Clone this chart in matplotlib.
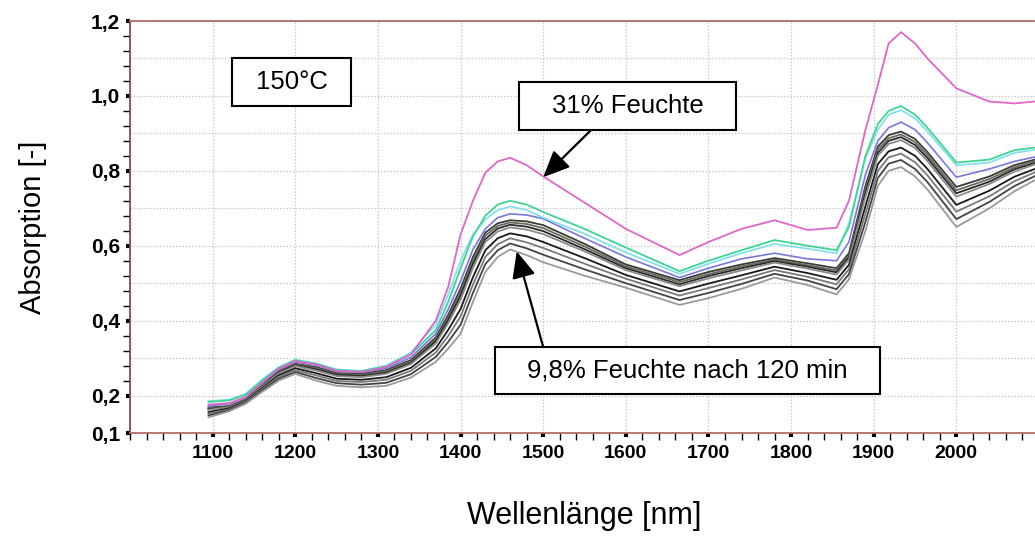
import numpy as np
import matplotlib
matplotlib.use("Agg")
import matplotlib.pyplot as plt
from matplotlib.patches import Rectangle
from matplotlib.ticker import FixedLocator, MultipleLocator

plt.rcParams['font.family'] = ['Liberation Sans', 'DejaVu Sans']

# Wellenlaengen-Stuetzstellen (nm)
wellenlaenge = [1095, 1120, 1140, 1160, 1180, 1200, 1225, 1250, 1280, 1310, 1340,
                1370, 1385, 1400, 1415, 1430, 1445, 1460, 1480, 1500, 1550, 1600,
                1665, 1700, 1740, 1780, 1820, 1855, 1870, 1890, 1905, 1918, 1933,
                1950, 1965, 2000, 2040, 2070, 2095]

# 31% Feuchte (magenta)
feuchte_31 = [.176, .180, .196, .235, .272, .292, .283, .266, .263, .276, .310,
              .400, .490, .630, .720, .795, .825, .835, .815, .785, .715, .645,
              .575, .610, .645, .668, .642, .648, .720, .910, 1.030, 1.140, 1.170,
              1.140, 1.100, 1.020, .985, .980, .985]
# weitere farbige Spektren
spektrum_gruen = [.183, .187, .202, .240, .274, .294, .285, .268, .265, .278, .310,
                  .375, .450, .540, .625, .680, .710, .720, .710, .690, .645, .595,
                  .532, .560, .588, .615, .600, .588, .650, .840, .925, .960, .973,
                  .950, .915, .822, .830, .855, .862]
spektrum_cyan = [.185, .189, .205, .243, .276, .296, .286, .270, .266, .280, .315,
                 .390, .470, .560, .630, .670, .695, .705, .695, .675, .632, .582,
                 .525, .552, .580, .605, .592, .580, .660, .835, .910, .950, .962,
                 .940, .905, .815, .822, .848, .856]
spektrum_blau = [.172, .178, .196, .234, .270, .290, .281, .265, .262, .273, .302,
                 .365, .430, .505, .590, .645, .675, .685, .682, .672, .620, .570,
                 .515, .540, .565, .580, .565, .560, .610, .790, .880, .915, .930,
                 .910, .875, .783, .805, .825, .837]

# graue Spektren (Trocknung bis 9,8% Feuchte nach 120 min)
grau_1 = [.168, .172, .190, .228, .265, .285, .276, .260, .258, .268, .295,
          .355, .415, .485, .570, .635, .660, .668, .665, .655, .605, .550,
          .508, .530, .550, .567, .553, .540, .580, .760, .865, .895, .905,
          .885, .850, .757, .785, .815, .830]
grau_2 = [.166, .171, .189, .227, .263, .283, .273, .257, .255, .265, .291,
          .350, .408, .475, .560, .627, .653, .662, .658, .647, .598, .545,
          .503, .524, .545, .563, .548, .534, .574, .750, .857, .887, .897,
          .877, .842, .748, .778, .809, .826]
grau_3 = [.164, .170, .188, .225, .261, .281, .270, .255, .252, .261, .287,
          .345, .401, .466, .551, .618, .646, .656, .651, .639, .591, .540,
          .497, .519, .540, .559, .544, .529, .569, .741, .848, .880, .890,
          .869, .834, .740, .771, .804, .821]
grau_4 = [.162, .169, .187, .224, .259, .279, .267, .252, .249, .258, .284,
          .339, .393, .456, .541, .610, .638, .649, .643, .631, .585, .535,
          .492, .513, .534, .555, .539, .523, .563, .731, .840, .872, .882,
          .861, .826, .731, .765, .798, .817]
grau_5 = [.156, .166, .185, .220, .254, .273, .260, .245, .242, .249, .274,
          .326, .375, .431, .516, .588, .620, .633, .625, .610, .567, .522,
          .478, .499, .521, .544, .527, .509, .549, .706, .818, .852, .862,
          .840, .805, .709, .747, .784, .805]
grau_6 = [.152, .163, .183, .217, .250, .268, .254, .239, .236, .242, .266,
          .315, .359, .411, .496, .570, .604, .620, .609, .594, .552, .512,
          .467, .487, .510, .535, .517, .497, .537, .686, .800, .836, .846,
          .823, .788, .691, .732, .772, .796]
grau_7 = [.147, .161, .180, .214, .245, .263, .247, .233, .229, .234, .257,
          .303, .343, .389, .474, .551, .588, .606, .593, .576, .537, .500,
          .455, .474, .498, .525, .507, .484, .524, .664, .781, .819, .829,
          .805, .770, .671, .717, .759, .786]
grau_8 = [.142, .158, .178, .210, .240, .258, .240, .226, .222, .226, .248,
          .290, .325, .365, .450, .530, .570, .590, .575, .556, .520, .488,
          .442, .460, .485, .515, .495, .470, .510, .640, .760, .800, .810,
          .785, .750, .650, .700, .745, .775]

graue_spektren = [grau_1, grau_2, grau_3, grau_4, grau_5, grau_6, grau_7, grau_8]
graue_farben = ['#3a3a3a', '#6a6a5a', '#2a2a2a', '#8a8a8a',
                '#1a1a1a', '#7a7a7a', '#444444', '#9a9a9a']

y_ticks = [0.1, 0.2, 0.4, 0.6, 0.8, 1.0, 1.2]
y_labels = ['0,1', '0,2', '0,4', '0,6', '0,8', '1,0', '1,2']
x_ticks = [1100, 1200, 1300, 1400, 1500, 1600, 1700, 1800, 1900, 2000]

fig = plt.figure(figsize=(10.35, 5.36), dpi=100)
ax = fig.add_axes([130 / 1035, 103 / 536, 909 / 1035, 412 / 536])

# Gitter (gepunktet)
for yg in np.arange(0.2, 1.21, 0.1):
    ax.axhline(yg, color='#c8c8c8', lw=0.9, ls=(0, (1.2, 1.4)), zorder=0)
for xg in x_ticks:
    ax.axvline(xg, color='#c8c8c8', lw=0.9, ls=(0, (1.2, 1.4)), zorder=0)

# Spektren
for werte, farbe in zip(graue_spektren, graue_farben):
    ax.plot(wellenlaenge, werte, color=farbe, lw=1.3, zorder=2)
ax.plot(wellenlaenge, spektrum_blau, color='#7878dc', lw=1.2, zorder=3)
ax.plot(wellenlaenge, spektrum_cyan, color='#7ee0ec', lw=1.2, zorder=3)
ax.plot(wellenlaenge, spektrum_gruen, color='#3fd494', lw=1.3, zorder=3)
ax.plot(wellenlaenge, feuchte_31, color='#e066c8', lw=1.3, zorder=4)

ax.set_xlim(1000, 2100)
ax.set_ylim(0.1, 1.2)

ax.xaxis.set_major_locator(FixedLocator(x_ticks))
ax.xaxis.set_minor_locator(MultipleLocator(20))
ax.yaxis.set_major_locator(FixedLocator(y_ticks))
ax.yaxis.set_minor_locator(FixedLocator(np.round(np.arange(0.24, 1.2, 0.04), 2)))
ax.set_yticklabels(y_labels)

ax.tick_params(which='major', direction='out', length=3, width=3, color='black')
ax.tick_params(which='minor', direction='out', length=5, width=1, color='black')
ax.tick_params(axis='x', which='major', labelsize=14, pad=6)
ax.tick_params(axis='y', which='major', labelsize=15, pad=4)
for lab in ax.get_xticklabels() + ax.get_yticklabels():
    lab.set_fontweight('bold')

for s in ['left', 'bottom', 'top']:
    ax.spines[s].set_color('#b86a6a')
    ax.spines[s].set_linewidth(1.3)
ax.spines['left'].set_color('#8a4848')
ax.spines['right'].set_visible(False)

ax.set_xlabel('Wellenlänge [nm]', fontsize=22, labelpad=28)
ax.set_ylabel('Absorption [-]', fontsize=21, labelpad=32)

# Textkaesten
def kasten(x0, y0, x1, y1, text):
    ax.add_patch(Rectangle((x0, y0), x1 - x0, y1 - y0, facecolor='white',
                           edgecolor='black', lw=1.5, zorder=6))
    ax.text((x0 + x1) / 2, (y0 + y1) / 2, text, ha='center', va='center',
            fontsize=18.5, zorder=7)

kasten(1123, 0.973, 1268, 1.101, '150°C')
kasten(1471, 0.909, 1733, 1.037, '31% Feuchte')
kasten(1442, 0.204, 1907, 0.3295, '9,8% Feuchte nach 120 min')

pfeil = dict(arrowstyle='-|>,head_length=0.9,head_width=0.4', color='black',
             lw=1.6, shrinkA=0, shrinkB=0, mutation_scale=18)
ax.annotate('', xy=(1500, 0.783), xytext=(1558, 0.909), arrowprops=pfeil, zorder=8)
ax.annotate('', xy=(1468, 0.585), xytext=(1500, 0.3295), arrowprops=pfeil, zorder=8)

fig.savefig('out.png', dpi=100, facecolor='white')
